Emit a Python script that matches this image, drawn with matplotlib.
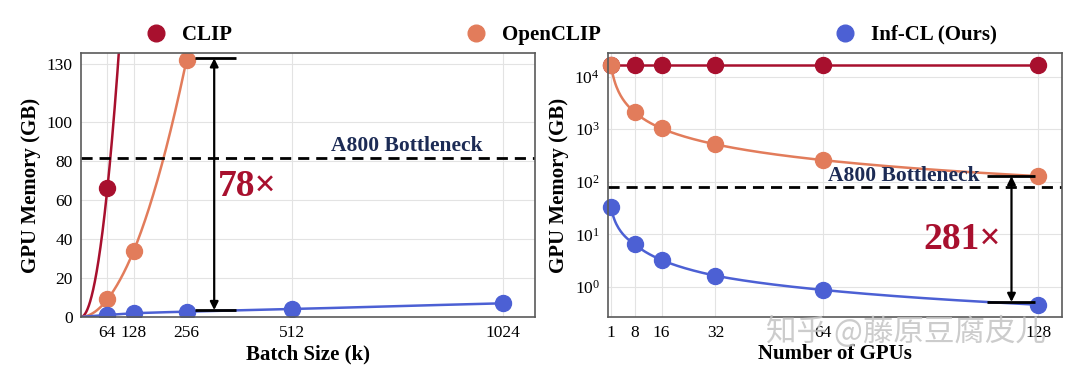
import numpy as np
import matplotlib
matplotlib.use("Agg")
import matplotlib.pyplot as plt
from matplotlib.lines import Line2D

plt.rcParams['font.family'] = ['Liberation Serif', 'DejaVu Serif']
plt.rcParams['mathtext.fontset'] = 'stix'

# colours
c_clip = '#a8102e'
c_open = '#e27c5b'
c_inf = '#4c60d4'

# left panel: memory vs batch size (k)
batch_ticks = [64, 128, 256, 512, 1024]
clip_bs = [64, 128]
clip_mem = [66, 264]
open_bs = [64, 128, 256]
open_mem = [9, 34, 132]
inf_bs = [64, 128, 256, 512, 1024]
inf_mem = [1.0, 1.9, 2.7, 4.0, 7.0]
left_yticks = [0, 20, 40, 60, 80, 100, 130]

# right panel: memory vs number of GPUs
gpu_ticks = [1, 8, 16, 32, 64, 128]
clip_g = [1, 8, 16, 32, 64, 128]
clip_gmem = [16500, 16500, 16500, 16500, 16500, 16500]
open_g = [1, 8, 16, 32, 64, 128]
open_gmem = [16500, 2100, 1030, 515, 258, 128]
inf_g = [1, 8, 16, 32, 64, 128]
inf_gmem = [32.6, 6.5, 3.26, 1.64, 0.88, 0.46]

bottleneck = 80


def smooth(xs, ys, x0, x1, n=400):
    # power-law (log-log linear) curve through the points
    lx = np.log(xs)
    ly = np.log(ys)
    xx = np.linspace(x0, x1, n)
    lxx = np.log(xx)
    yy = np.interp(lxx, lx, ly)
    s0 = (ly[1] - ly[0]) / (lx[1] - lx[0])
    lo = lxx < lx[0]
    yy[lo] = ly[0] + s0 * (lxx[lo] - lx[0])
    return xx, np.exp(yy)


fig = plt.figure(figsize=(10.8, 3.8), dpi=100)
ax1 = fig.add_axes([0.075, 0.166, 0.4204, 0.6945])
ax2 = fig.add_axes([0.563, 0.166, 0.4203, 0.6945])

ms = 11.5
for ax in (ax1, ax2):
    ax.grid(True, color='#e3e3e3', lw=0.8)
    ax.set_axisbelow(True)
    for s in ax.spines.values():
        s.set_color('#5a5a5a')
        s.set_linewidth(1.2)
    ax.tick_params(length=0, labelsize=12.5, pad=6)

# ---- left
x, y = smooth(clip_bs, clip_mem, 2, 128)
ax1.plot(x, y, color=c_clip, lw=1.8)
ax1.plot(clip_bs, clip_mem, 'o', color=c_clip, ms=ms)
x, y = smooth(open_bs, open_mem, 2, 256)
ax1.plot(x, y, color=c_open, lw=1.8)
ax1.plot(open_bs, open_mem, 'o', color=c_open, ms=ms)
x, y = smooth(inf_bs, inf_mem, 2, 1024)
ax1.plot(x, y, color=c_inf, lw=1.8)
ax1.plot(inf_bs, inf_mem, 'o', color=c_inf, ms=ms)

ax1.axhline(bottleneck + 1.5, color='black', ls='--', lw=2, dashes=(4, 2.5))
ax1.text(789, bottleneck + 2.5, 'A800 Bottleneck', ha='center', va='bottom',
         fontsize=15.5, fontweight='bold', color='#1c2b55')
ax1.hlines([132.8, 3.5], 277, 375, color='black', lw=2)
ax1.annotate('', xy=(323, 3.5), xytext=(323, 132.8),
             arrowprops=dict(arrowstyle='<|-|>', color='black', lw=1.6,
                             mutation_scale=12, shrinkA=0, shrinkB=0))
ax1.text(333, 67, '78×', ha='left', va='center', fontsize=27,
         fontweight='bold', color=c_clip)

ax1.set_xlim(0, 1101)
ax1.set_ylim(0, 135.5)
ax1.set_xticks(batch_ticks)
ax1.set_yticks(left_yticks)
ax1.set_xlabel('Batch Size (k)', fontsize=15, fontweight='bold', labelpad=2)
ax1.set_ylabel('GPU Memory (GB)', fontsize=15, fontweight='bold', labelpad=4)

# ---- right
ax2.set_yscale('log')
ax2.plot(clip_g, clip_gmem, '-', color=c_clip, lw=1.8)
ax2.plot(clip_g, clip_gmem, 'o', color=c_clip, ms=ms, clip_on=False)
x, y = smooth(open_g, open_gmem, 1, 128)
ax2.plot(x, y, color=c_open, lw=1.8)
ax2.plot(open_g, open_gmem, 'o', color=c_open, ms=ms, clip_on=False)
x, y = smooth(inf_g, inf_gmem, 1, 128)
ax2.plot(x, y, color=c_inf, lw=1.8)
ax2.plot(inf_g, inf_gmem, 'o', color=c_inf, ms=ms, clip_on=False)

ax2.axhline(bottleneck, color='black', ls='--', lw=2, dashes=(4, 2.5))
ax2.text(88, bottleneck * 1.04, 'A800 Bottleneck', ha='center', va='bottom',
         fontsize=15.5, fontweight='bold', color='#1c2b55')
ax2.hlines([128, 0.52], 112.8, 127, color='black', lw=2)
ax2.annotate('', xy=(120, 0.52), xytext=(120, 128),
             arrowprops=dict(arrowstyle='<|-|>', color='black', lw=1.6,
                             mutation_scale=12, shrinkA=0, shrinkB=0))
ax2.text(117, 8.0, '281×', ha='right', va='center', fontsize=27,
         fontweight='bold', color=c_clip)

ax2.set_xlim(0.1, 135)
ax2.set_ylim(0.27, 28000)
ax2.set_xticks(gpu_ticks)
ax2.set_yticks([1, 10, 100, 1000, 10000])
ax2.minorticks_off()
ax2.set_xlabel('Number of GPUs', fontsize=15, fontweight='bold', labelpad=2)
ax2.set_ylabel('GPU Memory (GB)', fontsize=15, fontweight='bold', labelpad=4)

# legend
handles = [Line2D([], [], ls='none', marker='o', ms=12, color=c)
           for c in (c_clip, c_open, c_inf)]
fig.legend(handles, ['CLIP', 'OpenCLIP', 'Inf-CL (Ours)'], loc='center',
           bbox_to_anchor=(0.529, 0.908), ncol=3, frameon=False,
           prop=dict(size=15, weight='bold'), handlelength=1,
           handletextpad=0.75, columnspacing=11.2)

# watermark
fig.text(0.839, 0.126, '知乎 @藤原豆腐皮儿', ha='center', va='center',
         fontsize=22, color='#c4c4c4', alpha=0.85,
         family=['Noto Sans CJK SC', 'DejaVu Sans'])

fig.savefig('out.png', dpi=100)
